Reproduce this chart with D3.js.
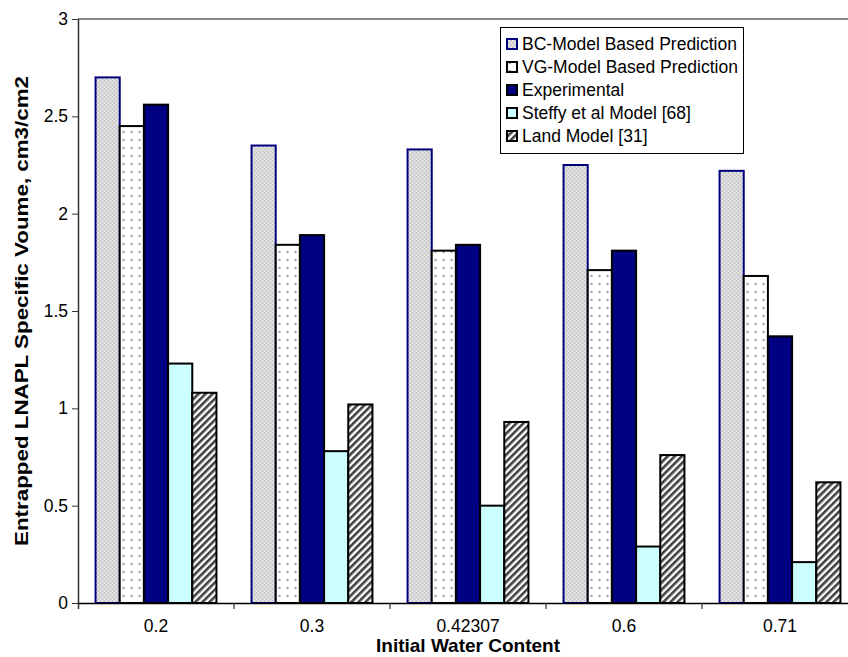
<!DOCTYPE html>
<html>
<head>
<meta charset="utf-8">
<script src="https://cdn.jsdelivr.net/npm/d3@7"></script>
<style>
  html, body { margin: 0; padding: 0; background: #fff; }
  svg { display: block; }
  text { font-family: "Liberation Sans", Arial, sans-serif; }
</style>
</head>
<body>
<svg id="chart" width="848" height="657"></svg>
<script>
// ---- data ----
const categories = ["0.2", "0.3", "0.42307", "0.6", "0.71"];
const seriesNames = [
  "BC-Model Based Prediction",
  "VG-Model Based Prediction",
  "Experimental",
  "Steffy et al Model [68]",
  "Land Model [31]"
];
const bcValues      = [2.70, 2.35, 2.33, 2.25, 2.22];
const vgValues      = [2.45, 1.84, 1.81, 1.71, 1.68];
const expValues     = [2.56, 1.89, 1.84, 1.81, 1.37];
const steffyValues  = [1.23, 0.78, 0.50, 0.29, 0.21];
const landValues    = [1.08, 1.02, 0.93, 0.76, 0.62];
const yTickValues   = [0, 0.5, 1, 1.5, 2, 2.5, 3];
const xTitle = "Initial Water Content";
const yTitle = "Entrapped LNAPL Specific Voume, cm3/cm2";

const seriesValues = [bcValues, vgValues, expValues, steffyValues, landValues];

// ---- layout ----
const svg = d3.select("#chart");
const plot = { left: 78, top: 19, right: 858, bottom: 603 };

const defs = svg.append("defs");
// BC: light gray crosshatch
const pBC = defs.append("pattern").attr("id", "pBC").attr("patternUnits", "userSpaceOnUse")
  .attr("width", 4).attr("height", 4);
pBC.append("rect").attr("width", 4).attr("height", 4).attr("fill", "#e6e6e6");
pBC.append("rect").attr("x", 0).attr("y", 0).attr("width", 2).attr("height", 2).attr("fill", "#c8c8c8");
pBC.append("rect").attr("x", 2).attr("y", 2).attr("width", 2).attr("height", 2).attr("fill", "#c8c8c8");
// VG: white with gray dots
const pVG = defs.append("pattern").attr("id", "pVG").attr("patternUnits", "userSpaceOnUse")
  .attr("width", 8).attr("height", 8);
pVG.append("rect").attr("width", 8).attr("height", 8).attr("fill", "#ffffff");
pVG.append("rect").attr("x", 3).attr("y", 3).attr("width", 2).attr("height", 2).attr("fill", "#9a9a9a");
// Land: diagonal stripes
const pLand = defs.append("pattern").attr("id", "pLand").attr("patternUnits", "userSpaceOnUse")
  .attr("width", 5).attr("height", 5).attr("patternTransform", "rotate(45)");
pLand.append("rect").attr("width", 5).attr("height", 5).attr("fill", "#ffffff");
pLand.append("rect").attr("x", 0).attr("y", 0).attr("width", 2.6).attr("height", 5).attr("fill", "#404040");

const fills   = ["url(#pBC)", "url(#pVG)", "#000080", "#CCFFFF", "url(#pLand)"];
const strokes = ["#000080", "#000000", "#000000", "#000000", "#000000"];

const pin = 0.225;
const x0 = d3.scaleBand().domain(categories).range([plot.left, plot.right])
  .paddingInner(pin).paddingOuter(pin / 2);
const x1 = d3.scaleBand().domain(d3.range(seriesNames.length)).range([0, x0.bandwidth()]);
const y = d3.scaleLinear().domain([0, 3]).range([plot.bottom, plot.top]);

// top border of plot area
svg.append("line").attr("x1", plot.left).attr("x2", plot.right)
  .attr("y1", plot.top).attr("y2", plot.top)
  .attr("stroke", "#8c8c8c").attr("stroke-width", 2);

// bars
const groups = svg.append("g").selectAll("g").data(categories).join("g")
  .attr("transform", d => `translate(${x0(d)},0)`);
groups.selectAll("rect")
  .data((c, ci) => seriesValues.map((vals, si) => ({ si, v: vals[ci] })))
  .join("rect")
  .attr("x", d => x1(d.si))
  .attr("y", d => y(d.v))
  .attr("width", x1.bandwidth())
  .attr("height", d => y(0) - y(d.v))
  .attr("fill", d => fills[d.si])
  .attr("stroke", d => strokes[d.si])
  .attr("stroke-width", 2);

// y axis
const yAxis = svg.append("g").attr("transform", `translate(${plot.left},0)`)
  .call(d3.axisLeft(y).tickValues(yTickValues).tickFormat(d => String(d)).tickSize(6).tickPadding(4));
yAxis.select(".domain").attr("stroke", "#333").attr("stroke-width", 1.5)
  .attr("d", `M0.5,${plot.top}V${plot.bottom + 6}`);
yAxis.selectAll(".tick line").attr("stroke", "#333");
yAxis.selectAll(".tick text").attr("font-size", 17.5).attr("fill", "#000")
  .style("font-family", '"Liberation Sans", Arial, sans-serif');

// x axis
const xAxis = svg.append("g").attr("transform", `translate(0,${plot.bottom})`)
  .call(d3.axisBottom(x0).tickSize(0).tickPadding(17));
xAxis.select(".domain").attr("stroke", "#000").attr("stroke-width", 1.5)
  .attr("d", `M${plot.left},0.5H${plot.right}`);
xAxis.selectAll(".tick text").attr("font-size", 17.5).attr("fill", "#000")
  .style("font-family", '"Liberation Sans", Arial, sans-serif');
// boundary ticks
const step = x0.step();
const boundaries = categories.slice(1).map(c => x0(c) - step * pin / 2);
xAxis.selectAll(".btick").data(boundaries).join("line")
  .attr("class", "btick")
  .attr("x1", d => d).attr("x2", d => d)
  .attr("y1", 0).attr("y2", 6)
  .attr("stroke", "#333").attr("stroke-width", 1.2);

// axis titles
svg.append("text")
  .attr("x", 468).attr("y", 652)
  .attr("text-anchor", "middle").attr("font-size", 18.5).attr("font-weight", "bold")
  .attr("textLength", 184).attr("lengthAdjust", "spacingAndGlyphs")
  .text(xTitle);
svg.append("text")
  .attr("transform", `translate(28,${(plot.top + plot.bottom) / 2}) rotate(-90)`)
  .attr("text-anchor", "middle").attr("font-size", 19).attr("font-weight", "bold")
  .attr("textLength", 470).attr("lengthAdjust", "spacingAndGlyphs")
  .text(yTitle);

// legend
const lg = svg.append("g").attr("transform", "translate(500,27)");
lg.append("rect").attr("x", 0.5).attr("y", 0.5).attr("width", 243).attr("height", 126)
  .attr("fill", "#fff").attr("stroke", "#000").attr("stroke-width", 1);
const items = lg.selectAll(".item").data(seriesNames).join("g")
  .attr("class", "item")
  .attr("transform", (d, i) => `translate(6,${17 + i * 23})`);
items.append("rect").attr("x", 1).attr("y", -5).attr("width", 10).attr("height", 10)
  .attr("fill", (d, i) => fills[i]).attr("stroke", (d, i) => strokes[i]).attr("stroke-width", 2);
items.append("text").attr("x", 16).attr("y", 0).attr("dy", "0.36em")
  .attr("font-size", 17.5).text(d => d);
</script>
</body>
</html>
